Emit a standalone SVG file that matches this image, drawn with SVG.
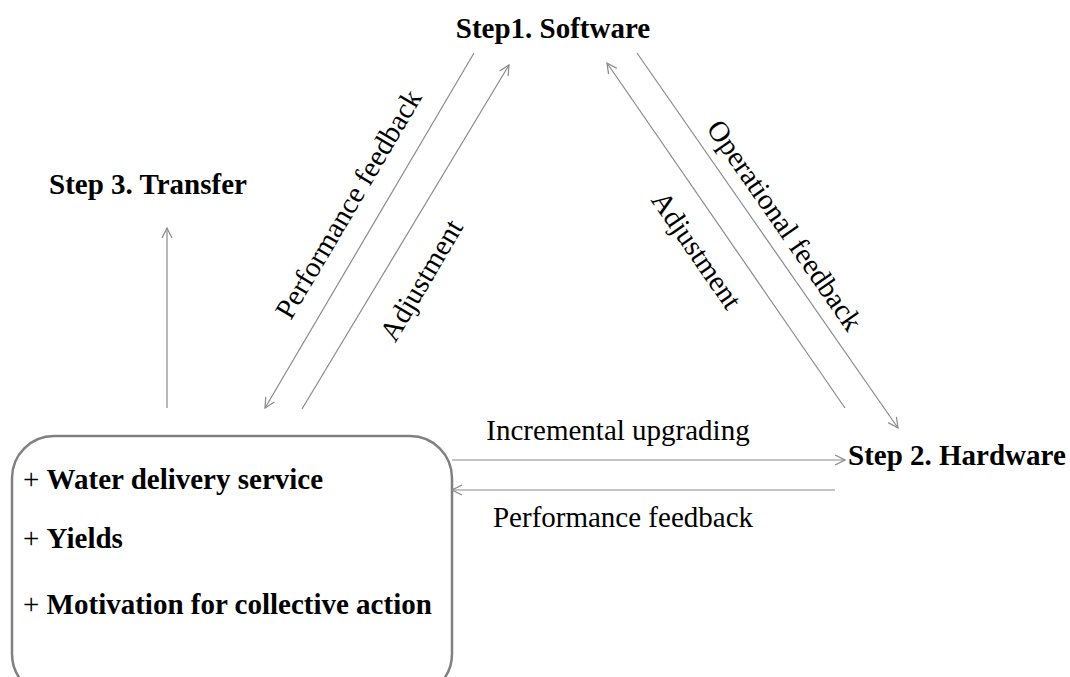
<svg xmlns="http://www.w3.org/2000/svg" width="1070" height="677" viewBox="0 0 1070 677">
<defs>
<style>
.t{font-family:"Liberation Serif","Times New Roman",serif;fill:#000}
.b{font-weight:bold;font-size:29px}
.r{font-size:29px}
.c{stroke:#8a8a8a;stroke-width:1.2;fill:none}
</style>
<marker id="ah" viewBox="0 0 12 12" refX="11" refY="6" markerWidth="12" markerHeight="12" markerUnits="userSpaceOnUse" orient="auto">
<path d="M1,1 L11,6 L1,11" fill="none" stroke="#8a8a8a" stroke-width="1.2"/>
</marker>
</defs>
<rect width="1070" height="677" fill="#fff"/>
<g id="step1"><text class="t b" x="553" y="38" text-anchor="middle">Step1. Software</text></g>
<g id="step2"><text class="t b" x="848" y="465">Step 2. Hardware</text></g>
<g id="step3"><text class="t b" x="49" y="194">Step 3. Transfer</text></g>
<g id="outcomes">
<rect x="12" y="436" width="440" height="260" rx="42" ry="42" fill="#fff" stroke="#808080" stroke-width="2.5"/>
<text class="t b" x="23" y="489"><tspan font-weight="normal">+ </tspan>Water delivery service</text>
<text class="t b" x="23" y="548"><tspan font-weight="normal">+ </tspan>Yields</text>
<text class="t b" x="23" y="614"><tspan font-weight="normal">+ </tspan>Motivation for collective action</text>
</g>
<g id="connectors">
<line class="c" x1="167" y1="408" x2="167" y2="228" marker-end="url(#ah)"/>
<line class="c" x1="474" y1="53" x2="265" y2="408" marker-end="url(#ah)"/>
<line class="c" x1="302" y1="409" x2="509" y2="65" marker-end="url(#ah)"/>
<line class="c" x1="845" y1="408" x2="607" y2="63" marker-end="url(#ah)"/>
<line class="c" x1="637" y1="53" x2="898" y2="428" marker-end="url(#ah)"/>
<line class="c" x1="452" y1="460" x2="845" y2="460" marker-end="url(#ah)"/>
<line class="c" x1="835" y1="490" x2="452" y2="490" marker-end="url(#ah)"/>
<text class="t r" x="618" y="440" text-anchor="middle">Incremental upgrading</text>
<text class="t r" x="623" y="527" text-anchor="middle">Performance feedback</text>
<text class="t r" transform="translate(348,204) rotate(-59.5)" x="0" y="10" text-anchor="middle">Performance feedback</text>
<text class="t r" transform="translate(421,280) rotate(-59.5)" x="0" y="10" text-anchor="middle">Adjustment</text>
<text class="t r" transform="translate(697,250) rotate(55.4)" x="0" y="10" text-anchor="middle">Adjustment</text>
<text class="t r" transform="translate(785,225) rotate(55.2)" x="0" y="10" text-anchor="middle">Operational feedback</text>
</g>
</svg>
